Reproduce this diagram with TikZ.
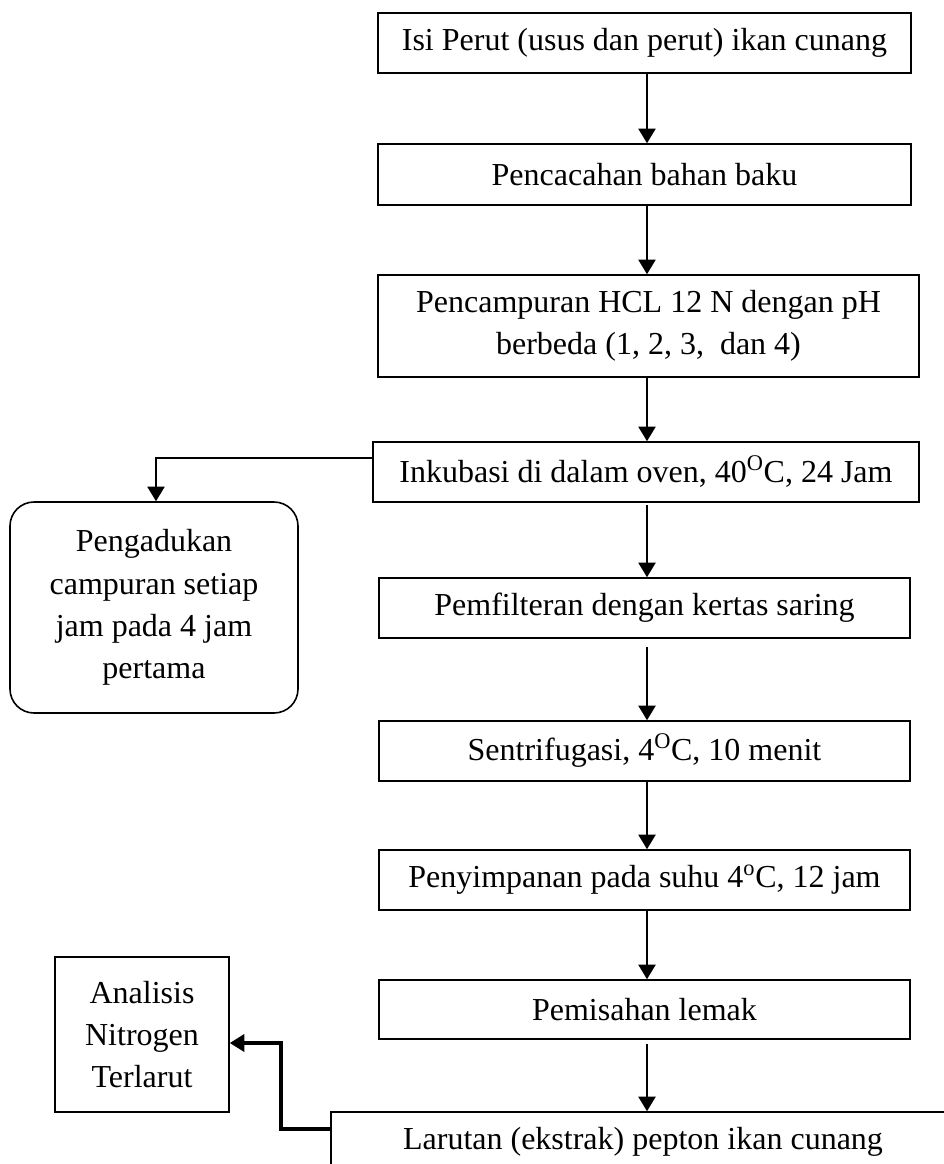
\documentclass[tikz,border=0pt]{standalone}
\usepackage{fontspec}
\setmainfont{Liberation Serif}
\usetikzlibrary{arrows.meta,calc}
\begin{document}
\begin{tikzpicture}[x=0.75pt,y=-0.75pt,
  box/.style={draw, line width=1.2pt, rectangle, inner sep=0pt, align=center,
    font=\fontsize{24pt}{31.7pt}\selectfont},
  rbox/.style={box, rounded corners=18pt},
  arr/.style={-{Triangle[length=11pt,width=13pt]}, line width=1.2pt},
  arrthick/.style={-{Triangle[length=11pt,width=13pt]}, line width=2.4pt},
]
\useasboundingbox (0,0) rectangle (944,1164);
\coordinate (colx) at (647,0);
\node[box, minimum width=399.75pt, minimum height=45pt] (b1) at (644.5,43) {Isi Perut (usus dan perut) ikan cunang};
\node[box, minimum width=399.75pt, minimum height=45.75pt] (b2) at (644.5,174.5) {Pencacahan bahan baku};
\node[box, minimum width=405.75pt, minimum height=76.5pt] (b3) at (648.5,326) {Pencampuran HCL 12 N dengan pH\\berbeda (1, 2, 3, \ dan 4)};
\node[box, minimum width=409.5pt, minimum height=45pt] (b4) at (646,472) {Inkubasi di dalam oven, 40\textsuperscript{O}C, 24 Jam};
\node[box, minimum width=398.25pt, minimum height=45pt] (b5) at (644.5,608) {Pemfilteran dengan kertas saring};
\node[box, minimum width=398.25pt, minimum height=45pt] (b6) at (644.5,751) {Sentrifugasi, 4\textsuperscript{O}C, 10 menit};
\node[box, minimum width=398.25pt, minimum height=45pt] (b7) at (644.5,880) {Penyimpanan pada suhu 4\textsuperscript{o}C, 12 jam};
\node[box, minimum width=398.25pt, minimum height=44.25pt] (b8) at (644.5,1009.5) {Pemisahan lemak};
\node[box, minimum width=468pt, minimum height=45pt] (b9) at (643,1142) {Larutan (ekstrak) pepton ikan cunang};
\node[rbox, minimum width=216pt, minimum height=158.25pt] (peng) at (154,607.5) {Pengadukan\\campuran setiap\\jam pada 4 jam\\pertama};
\node[box, minimum width=130.5pt, minimum height=116.25pt] (ana) at (142,1034.5) {Analisis\\Nitrogen\\Terlarut};
\coordinate (bend) at (281,1043);

\draw[arr] (b1.south -| colx) -- (b2.north -| colx);
\draw[arr] (b2.south -| colx) -- (b3.north -| colx);
\draw[arr] (b3.south -| colx) -- (b4.north -| colx);
\draw[arr] ([yshift=-2pt]b4.south -| colx) -- (b5.north -| colx);
\draw[arr] ([yshift=-6pt]b5.south -| colx) -- (b6.north -| colx);
\draw[arr] (b6.south -| colx) -- (b7.north -| colx);
\draw[arr] (b7.south -| colx) -- (b8.north -| colx);
\draw[arr] ([yshift=-3pt]b8.south -| colx) -- (b9.north -| colx);
\draw[arr] ([yshift=10.5pt]b4.west) -| ([xshift=1.5pt]peng.north);
\draw[arrthick] ([yshift=9.75pt]b9.west) -| (bend) -- (bend -| ana.east);
\end{tikzpicture}
\end{document}
